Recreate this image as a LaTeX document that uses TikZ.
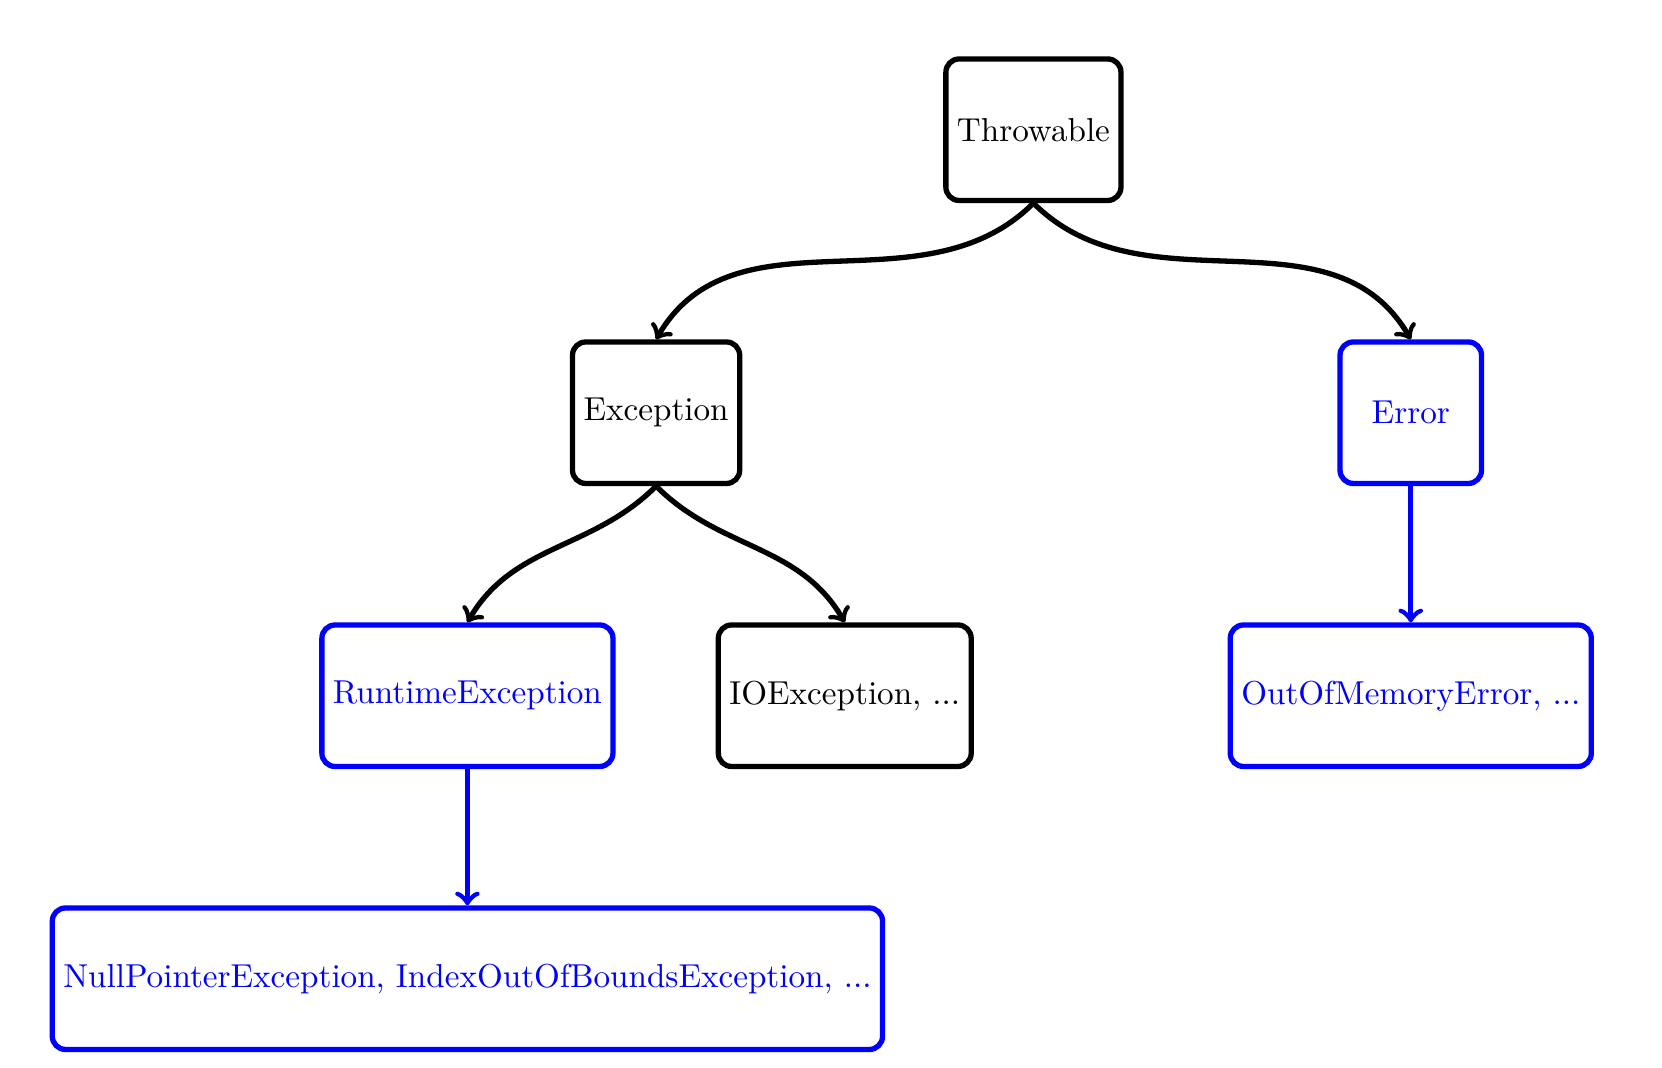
\documentclass[tikz,border=0pt]{standalone}
\tikzset{
  cls/.style={draw, line width=1.6pt, rounded corners, minimum width=1.5cm, minimum height=1.5cm},
  unchecked/.style={cls, blue, text=blue},
}
\begin{document}
\begin{tikzpicture}
\useasboundingbox (-10.955,1.375) rectangle (6.663,-9.94);
\node[cls] (thr) at (0,0) {Throwable};

\node[cls] (exc) at (-4,-3) {Exception};
\node[unchecked] (err) at (4,-3) {Error};

\node[unchecked] (rte) at (-6,-6) {RuntimeException};
\node[cls] (ioe) at (-2,-6) {IOException, ...};
\node[unchecked] (oom) at (4,-6) {OutOfMemoryError, ...};

\node[unchecked] (npe) at (-6,-9) {NullPointerException, IndexOutOfBoundsException, ...};

\path[line width=1.6pt]
(thr.south) edge[->, out=-135, in=60] (exc.north)
(thr.south) edge[->, out=-45, in=120] (err.north)
(exc.south) edge[->, out=-135, in=60] (rte.north)
(exc.south) edge[->, out=-45, in=120] (ioe.north)
(rte) edge[->, blue] (npe)
(err) edge[->, blue] (oom);
\end{tikzpicture}
\end{document}
